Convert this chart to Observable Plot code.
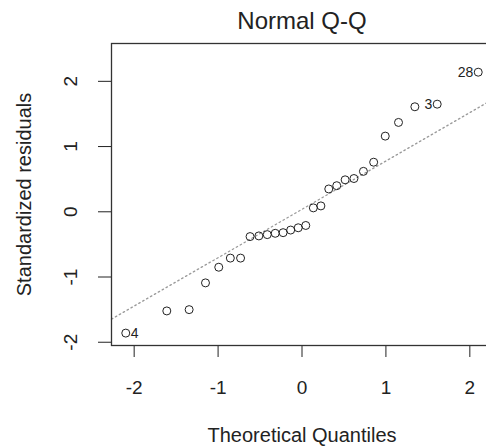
<!DOCTYPE html>
<html>
<head>
<meta charset="utf-8">
<script src="https://cdn.jsdelivr.net/npm/d3@7"></script>
<script src="https://cdn.jsdelivr.net/npm/@observablehq/plot@0.6"></script>
<style>
  html, body { margin: 0; padding: 0; background: #fff; overflow: hidden; }
  #chart svg { overflow: hidden; }
</style>
</head>
<body>
<div id="chart"></div>
<script>
// Normal quantiles for the 28 ordered observations
const theoretical = [-2.100, -1.611, -1.345, -1.150, -0.992, -0.854, -0.732, -0.619, -0.514, -0.414,
  -0.319, -0.225, -0.135, -0.045, 0.045, 0.135, 0.225, 0.319, 0.414, 0.514,
  0.619, 0.732, 0.854, 0.992, 1.150, 1.345, 1.611, 2.100];
// Ordered standardized residuals
const residuals = [-1.86, -1.52, -1.50, -1.09, -0.85, -0.71, -0.71, -0.38, -0.37, -0.35,
  -0.33, -0.32, -0.28, -0.245, -0.21, 0.06, 0.09, 0.35, 0.40, 0.49,
  0.51, 0.62, 0.76, 1.16, 1.37, 1.61, 1.65, 2.14];
// Extreme points that get their observation number
const labelRank = [0, 26, 27];
const labelId = ["4", "3", "28"];
const xTicks = [-2, -1, 0, 1, 2];
const yTicks = [-2, -1, 0, 1, 2];
const xDomain = [-2.27, 2.27];
const yDomain = [-2.05, 2.58];

const points = theoretical.map((x, i) => ({x, y: residuals[i]}));
const labels = labelRank.map((r, k) => ({
  x: theoretical[r], y: residuals[r], id: labelId[k], right: theoretical[r] > 0
}));

// Reference line through the first and third quartiles
const z75 = 0.6744898;
const q25 = d3.quantile(residuals, 0.25);
const q75 = d3.quantile(residuals, 0.75);
const slope = (q75 - q25) / (2 * z75);
const intercept = q25 + slope * z75;
const refLine = xDomain.map(x => ({x, y: intercept + slope * x}));

const font = "'Liberation Sans', Arial, Helvetica, sans-serif";
const ink = "#222";

const chart = Plot.plot({
  width: 486,
  height: 447,
  marginLeft: 111,
  marginRight: -6,
  marginTop: 43,
  marginBottom: 102,
  style: {fontFamily: font, fontSize: "19px", color: ink, background: "#fff"},
  x: {domain: xDomain, ticks: xTicks, tickSize: 12, tickPadding: 23, tickFormat: d => String(d), label: null},
  y: {domain: yDomain, ticks: yTicks, tickSize: 13, tickFormat: () => "", label: null},
  marks: [
    Plot.line(refLine, {x: "x", y: "y", stroke: "#9a9a9a", strokeWidth: 1.3, strokeDasharray: "1.5,3"}),
    Plot.dot(points, {x: "x", y: "y", r: 4, stroke: ink, strokeWidth: 1, fill: "none"}),
    Plot.text(labels.filter(d => d.right), {x: "x", y: "y", text: "id", textAnchor: "end", dx: -5, fontSize: 14, fill: ink}),
    Plot.text(labels.filter(d => !d.right), {x: "x", y: "y", text: "id", textAnchor: "start", dx: 5, fontSize: 14, fill: ink}),
    Plot.frame({stroke: "#333", strokeWidth: 1.3}),
    Plot.text(yTicks, {y: d => d, text: d => String(d), frameAnchor: "left", textAnchor: "middle", lineAnchor: "middle", dx: -41, rotate: -90, fontSize: 19, fill: ink}),
    Plot.text(["Normal Q-Q"], {text: d => d, frameAnchor: "top", textAnchor: "middle", lineAnchor: "middle", dy: -22, fontSize: 24, fill: ink}),
    Plot.text(["Theoretical Quantiles"], {text: d => d, frameAnchor: "bottom", textAnchor: "middle", lineAnchor: "middle", dy: 90, fontSize: 20, fill: ink}),
    Plot.text(["Standardized residuals"], {text: d => d, frameAnchor: "left", textAnchor: "middle", lineAnchor: "middle", dx: -87, rotate: -90, fontSize: 20, fill: ink})
  ]
});
document.getElementById("chart").appendChild(chart);
</script>
</body>
</html>
